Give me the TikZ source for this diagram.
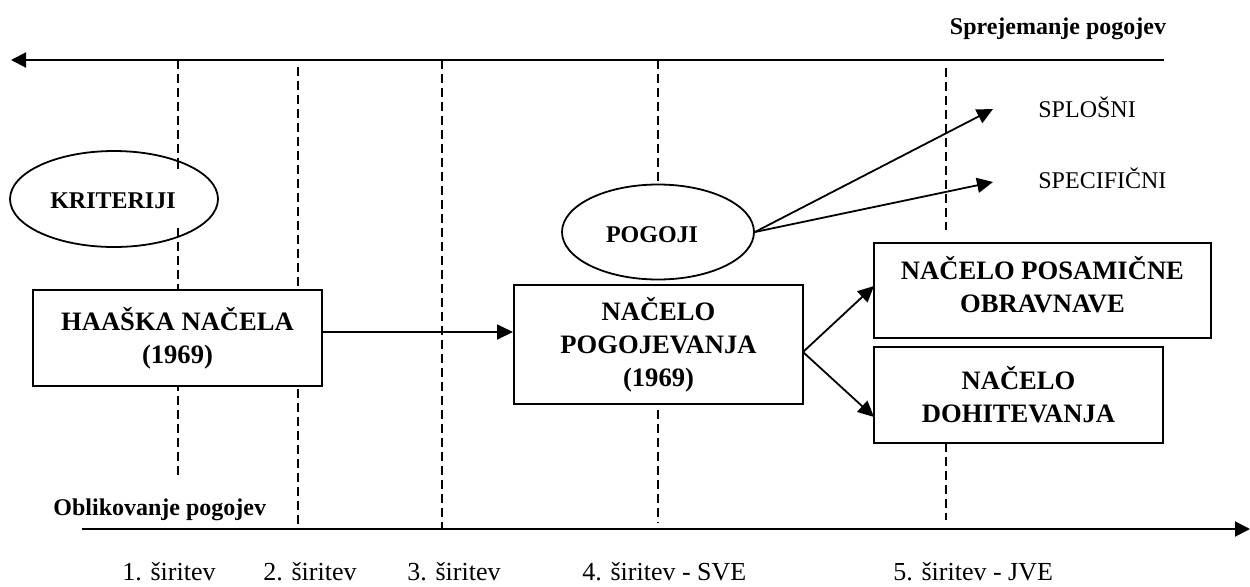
\documentclass[tikz,border=0pt]{standalone}
\usepackage{fontspec}
\setmainfont{Liberation Serif}
\usetikzlibrary{arrows.meta,shapes.geometric}
\begin{document}
\begin{tikzpicture}[x=0.5pt,y=-0.5pt,
  axis/.style={line width=1pt,-{Triangle[length=7.5pt,width=7.5pt]}},
  conn/.style={line width=0.9pt,-{Triangle[length=8pt,width=7.5pt]}},
  guide/.style={line width=0.8pt,dash pattern=on 4.5pt off 2.5pt},
  oval/.style={ellipse,draw,line width=0.9pt,fill=white,inner sep=0pt,font=\fontsize{12}{14}\selectfont\bfseries},
  box/.style={rectangle,draw,line width=1pt,fill=white,inner sep=0pt,align=center,font=\fontsize{13.3}{16.5}\selectfont\bfseries},
  lbl/.style={inner sep=0pt,font=\fontsize{12}{14}\selectfont},
  blbl/.style={inner sep=0pt,font=\fontsize{12}{14}\selectfont\bfseries},
  tick/.style={inner sep=0pt,font=\fontsize{13}{15}\selectfont}]
\useasboundingbox (0,0) rectangle (1250,586);
% axes
\coordinate (topR) at (1164,60);
\coordinate (topL) at (11,60);
\coordinate (botL) at (82,529);
\coordinate (botR) at (1250,529);
\draw[axis] (topR) -- (topL);
\draw[axis] (botL) -- (botR);
% guide lines
\draw[guide] (178,60) -- (178,173);
\draw[guide] (178,228) -- (178,477);
\draw[guide] (298,67) -- (298,529);
\draw[guide] (442,60) -- (442,529);
\draw[guide] (658,60) -- (658,523);
\draw[guide] (946,68) -- (946,230);
\draw[guide] (946,443) -- (946,520);
% ellipses
\node[oval,minimum width=104pt,minimum height=48pt] (krit) at (114,199) {};
\node[blbl,anchor=base] (kritt) at (113,208) {KRITERIJI};
\draw[guide] (178,160) -- (178,173);
\draw[guide] (178,228) -- (178,236);
\node[oval,minimum width=96pt,minimum height=47.5pt] (pog) at (658,232) {};
\node[blbl,anchor=base] (pogt) at (652,242) {POGOJI};
% boxes
\node[box,minimum width=144.5pt,minimum height=48pt] (haa) at (177.5,338) {HAAŠKA NAČELA\\(1969)};
\node[box,minimum width=144.5pt,minimum height=59.5pt] (npog) at (658.5,344.5) {NAČELO\\POGOJEVANJA\\(1969)};
\node[box,minimum width=168.5pt,minimum height=47.5pt] (npos) at (1042.5,290.5) {};
\node[box,draw=none,fill=none] (nposT) at (1042.5,285) {NAČELO POSAMIČNE\\OBRAVNAVE};
\node[box,minimum width=144.5pt,minimum height=48pt] (ndoh) at (1018.5,395) {NAČELO\\DOHITEVANJA};
% labels
\node[blbl,anchor=base] (sprej) at (1058,34) {Sprejemanje pogojev};
\node[blbl,anchor=base west] (oblik) at (53,515) {Oblikovanje pogojev};
\node[lbl,anchor=base west] (splos) at (1038,117) {SPLOŠNI};
\node[lbl,anchor=base west] (spec) at (1038,188) {SPECIFIČNI};
\coordinate (splA) at (993,109);
\coordinate (speA) at (993,182);
\node[tick,anchor=base west] (s1) at (122,580) {1. širitev};
\node[tick,anchor=base west] (s2) at (263,580) {2. širitev};
\node[tick,anchor=base west] (s3) at (407,580) {3. širitev};
\node[tick,anchor=base west] (s4) at (582,580) {4. širitev - SVE};
\node[tick,anchor=base west] (s5) at (893,580) {5. širitev - JVE};
% connectors
\draw[conn] (pog.east) -- (splA);
\draw[conn] (pog.east) -- (speA);
\coordinate (hy) at (0,332);
\draw[conn] (haa.east |- hy) -- (npog.west |- hy);
\coordinate (split) at (803,352);
\draw[conn] (split) -- (874,286);
\draw[conn] (split) -- (874,417);
\end{tikzpicture}
\end{document}
